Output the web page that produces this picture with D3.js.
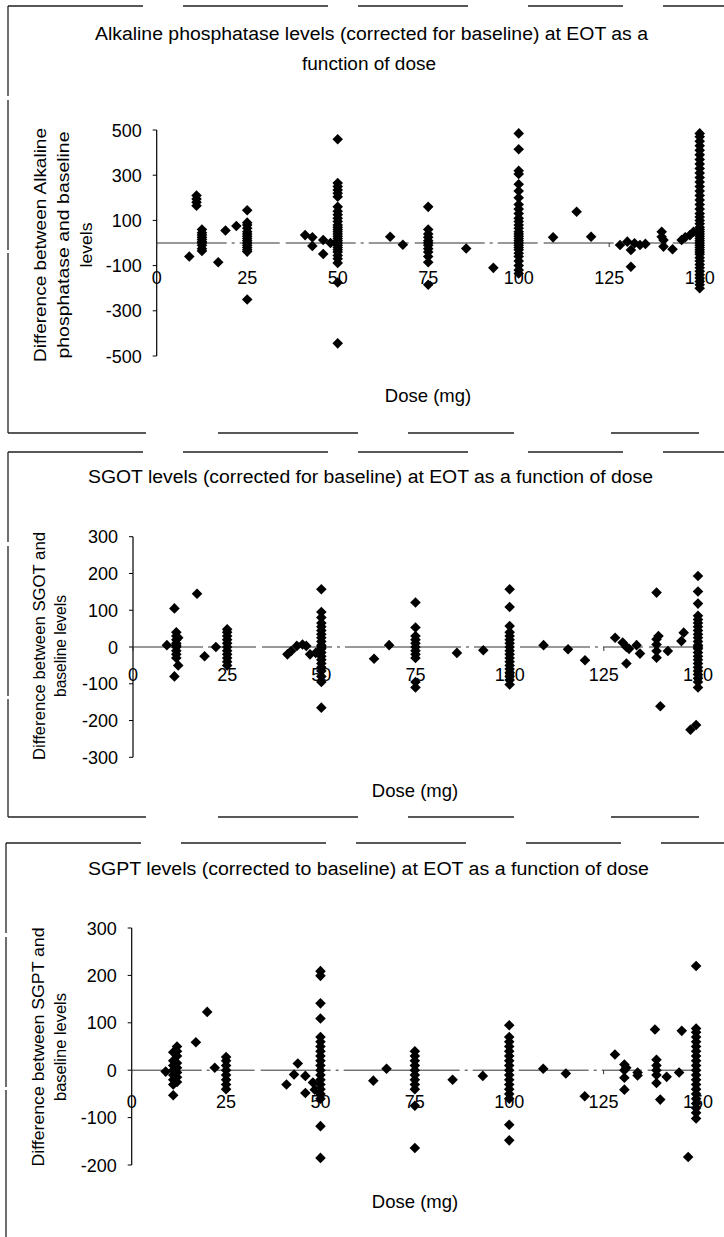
<!DOCTYPE html>
<html>
<head>
<meta charset="utf-8">
<script src="https://cdn.jsdelivr.net/npm/d3@7"></script>
<style>
body{margin:0;background:#fff;}
svg{display:block;}
text{font-family:"Liberation Sans",Arial,sans-serif;fill:#000;}
</style>
</head>
<body>
<svg id="chart" width="724" height="1237"></svg>
<script>
// dose ticks shared by the three panels
const doseTicks = [0, 25, 50, 75, 100, 125, 150];

// Alkaline phosphatase : [dose, [differences]]
const alpTicks = [-500, -300, -100, 100, 300, 500];
const alpGroups = [
    [9, [-60]],
    [11, [210, 195, 180, 165]],
    [12.5, [60, 45, 35, 25, 15, 5, 0, -10, -25, -35]],
    [17, [-85]],
    [19, [55]],
    [22, [75]],
    [25, [145, 90, 80, 65, 50, 40, 30, 20, 10, 0, -10, -20, -30, -38, -250]],
    [41, [35]],
    [43, [-13, 25]],
    [46, [13, -49]],
    [48, [0]],
    [50, [459, 265, 250, 235, 220, 205, 160, 140, 125, 110, 95, 80, 70, 60, 50, 40, 30, 20, 10, 0,
          -10, -20, -30, -40, -55, -70, -88, -175, -444]],
    [64.5, [28]],
    [68, [-8]],
    [75, [160, 60, 40, 25, 10, 0, -10, -25, -40, -60, -85, -185]],
    [85.5, [-24]],
    [93, [-110]],
    [100, [485, 415, 320, 305, 260, 230, 200, 170, 150, 130, 110, 95, 80, 65, 50, 40, 30, 20, 10, 0,
           -10, -20, -30, -45, -60, -80, -100, -120, -135]],
    [109.5, [25]],
    [116, [138]],
    [120, [28]],
    [128, [-9]],
    [130, [6]],
    [131, [-31, -105]],
    [132, [-1]],
    [133.5, [-9]],
    [135, [-4]],
    [139.5, [50, 28]],
    [140, [13, -16]],
    [142.5, [-28]],
    [145, [13]],
    [146, [25]],
    [147.3, [35]],
    [148.3, [50]],
    [150, [485, 470, 450, 430, 410, 390, 370, 350, 330, 310, 290, 270, 250, 230, 210, 190, 170, 150,
           130, 115, 100, 85, 70, 60, 50, 40, 30, 20, 10, 0, -10, -20, -30, -40, -50, -65, -80, -95,
           -110, -125, -140, -155, -170, -185, -200]]
];

// SGOT
const sgotTicks = [-300, -200, -100, 0, 100, 200, 300];
const sgotGroups = [
    [9, [5]],
    [11, [105, -80]],
    [11.5, [40, 30, 20, 10, 5, 0, -10, -20, -30]],
    [12, [25, -50]],
    [17, [145]],
    [19, [-25]],
    [22, [0]],
    [25, [48, 40, 30, 20, 10, 0, -10, -20, -30, -40, -50]],
    [41, [-20]], [42, [-11]], [43.5, [3]], [45, [7]], [46, [3]], [47, [-20]], [48.5, [-16]],
    [50, [157, 95, 80, 65, 55, 45, 35, 25, 15, 5, 0, -5, -15, -25, -35, -45, -55, -65, -80, -95, -165]],
    [64, [-32]],
    [68, [5]],
    [75, [121, 53, 30, 20, 10, 0, -10, -20, -30, -95, -110]],
    [86, [-16]],
    [93, [-9]],
    [100, [157, 109, 57, 40, 30, 20, 10, 0, -10, -20, -30, -40, -50, -60, -70, -80, -90, -102]],
    [109, [5]],
    [115.5, [-6]],
    [120, [-36]],
    [128, [25]],
    [130, [12]], [131, [0, -45]], [131.7, [-5]],
    [133.7, [5]], [134.6, [-18]],
    [139, [148, 21, 7, -11, -29]],
    [139.5, [30]],
    [140, [-161]],
    [142, [-11]],
    [145.6, [16]], [146.2, [39]],
    [148, [-225]], [149.5, [-212]],
    [150, [193, 151, 118, 85, 75, 65, 55, 45, 35, 25, 15, 5, 0, -5, -15, -25, -35, -45, -55, -65,
           -75, -85, -95, -110]]
];

// SGPT
const sgptTicks = [-200, -100, 0, 100, 200, 300];
const sgptGroups = [
    [9, [-3]],
    [11, [38, 20, 10, 0, -10, -20, -30, -53]],
    [12, [50, 40, 30, 15, 5, -5, -15, -25]],
    [17, [59]],
    [20, [123]],
    [22, [5]],
    [25, [28, 20, 10, 0, -10, -20, -30, -40]],
    [41, [-30]], [43, [-9]], [44, [14]], [46, [-12, -48]], [48, [-26]], [48.5, [-41]],
    [50, [209, 199, 141, 109, 70, 60, 50, 40, 30, 20, 10, 0, -10, -20, -30, -40, -50, -60, -118, -185]],
    [64, [-22]],
    [67.5, [3]],
    [75, [40, 30, 20, 10, 0, -10, -20, -30, -40, -75, -164]],
    [85, [-20]],
    [93, [-12]],
    [100, [95, 70, 60, 50, 40, 30, 20, 10, 0, -10, -20, -30, -40, -50, -60, -115, -148]],
    [109, [3]],
    [115, [-7]],
    [120, [-55]],
    [128, [33]],
    [130.5, [12, 0, -16, -41]],
    [131, [5]],
    [134, [-5, -11]],
    [138.6, [86]],
    [139, [22, 10, 0, -10, -27]],
    [140, [-62]],
    [141.7, [-14]],
    [145, [-5]],
    [145.7, [83]],
    [147.4, [-183]],
    [149.5, [220, 88, 80, 70, 60, 50, 40, 30, 20, 10, 0, -10, -20, -30, -40, -50, -60, -70, -80, -90, -102]]
];

const svg = d3.select("#chart");
svg.append("rect").attr("width", 724).attr("height", 1237).attr("fill", "#fff");

const panels = [
    {
        groups: alpGroups, ticks: alpTicks, yDomain: [-500, 500],
        xRange: [156.7, 699.7], yRange: [356, 130],
        frame: {top: 6, bottom: 433, left: 8},
        titles: [
            {text: "Alkaline phosphatase levels (corrected for baseline) at EOT as a", x: 371.5, y: 39.5, len: 553},
            {text: "function of dose", x: 369, y: 69.5, len: 134}
        ],
        ylab: [
            {text: "Difference between Alkaline", x: 46, len: 234},
            {text: "phosphatase  and baseline", x: 69, len: 227},
            {text: "levels", x: 92, len: 45}
        ],
        ylabY: 245, tickLabY: 284, doseX: 428, doseY: 402
    },
    {
        groups: sgotGroups, ticks: sgotTicks, yDomain: [-300, 300],
        xRange: [133, 698], yRange: [757.3, 536.7],
        frame: {top: 452, bottom: 817, left: 8},
        titles: [
            {text: "SGOT levels (corrected for baseline) at EOT as a function of dose", x: 370.5, y: 483, len: 565}
        ],
        ylab: [
            {text: "Difference between SGOT and", x: 45, len: 228},
            {text: "baseline levels", x: 66, len: 102}
        ],
        ylabY: 646, tickLabY: 681, doseX: 415, doseY: 797
    },
    {
        groups: sgptGroups, ticks: sgptTicks, yDomain: [-200, 300],
        xRange: [131.7, 698], yRange: [1165, 928],
        frame: {top: 843, bottom: 1250, left: 6},
        titles: [
            {text: "SGPT levels (corrected to baseline) at EOT as a function of dose", x: 368.5, y: 875, len: 561}
        ],
        ylab: [
            {text: "Difference between SGPT and", x: 44, len: 239},
            {text: "baseline levels", x: 66, len: 108}
        ],
        ylabY: 1047, tickLabY: 1108, doseX: 415, doseY: 1208
    }
];

let _drawPanel = function(p) {
    let g = svg.append("g");
    let x = d3.scaleLinear().domain([0, 150]).range(p.xRange);
    let y = d3.scaleLinear().domain(p.yDomain).range(p.yRange);

    // scanned frame, broken lines
    g.append("line").attr("x1", p.frame.left).attr("x2", 724)
        .attr("y1", p.frame.top).attr("y2", p.frame.top)
        .attr("stroke", "#222").attr("stroke-width", 1.3)
        .attr("stroke-dasharray", "135,40,145,30,110,60,95,40,70,30");
    g.append("line").attr("x1", p.frame.left).attr("x2", 724)
        .attr("y1", p.frame.bottom).attr("y2", p.frame.bottom)
        .attr("stroke", "#222").attr("stroke-width", 1.3)
        .attr("stroke-dasharray", "138,72,140,50,106,97,88,30");
    g.append("line").attr("x1", p.frame.left).attr("x2", p.frame.left)
        .attr("y1", p.frame.top).attr("y2", p.frame.bottom)
        .attr("stroke", "#222").attr("stroke-width", 1.3)
        .attr("stroke-dasharray", "90,4,150,3,200");

    // titles
    p.titles.forEach(function(t) {
        g.append("text").attr("x", t.x).attr("y", t.y)
            .attr("text-anchor", "middle").style("font-size", "18px")
            .attr("textLength", t.len).attr("lengthAdjust", "spacingAndGlyphs")
            .text(t.text);
    });

    // y axis title, rotated
    p.ylab.forEach(function(l) {
        g.append("text")
            .attr("transform", "translate(" + l.x + "," + p.ylabY + ") rotate(-90)")
            .attr("text-anchor", "middle").style("font-size", "16px")
            .attr("textLength", l.len).attr("lengthAdjust", "spacingAndGlyphs")
            .text(l.text);
    });

    // y axis
    let x0 = x(0);
    g.append("line").attr("x1", x0).attr("x2", x0)
        .attr("y1", y(p.yDomain[1])).attr("y2", y(p.yDomain[0]))
        .attr("stroke", "#000").attr("stroke-width", 1.2);
    p.ticks.forEach(function(v) {
        g.append("line").attr("x1", x0 - 4).attr("x2", x0)
            .attr("y1", y(v)).attr("y2", y(v)).attr("stroke", "#000");
        g.append("text").attr("x", x0 - 15).attr("y", y(v) + 6.5)
            .attr("text-anchor", "end").style("font-size", "18px")
            .text(v);
    });

    // x axis on the zero line
    g.append("line").attr("x1", x0).attr("x2", x(150))
        .attr("y1", y(0)).attr("y2", y(0))
        .attr("stroke", "#333").attr("stroke-width", 1)
        .attr("stroke-dasharray", "70,5,3,5,40,6");
    doseTicks.forEach(function(v) {
        g.append("line").attr("x1", x(v)).attr("x2", x(v))
            .attr("y1", y(0)).attr("y2", y(0) + 4).attr("stroke", "#333");
        g.append("text").attr("x", x(v)).attr("y", p.tickLabY)
            .attr("text-anchor", "middle").style("font-size", "18px")
            .text(v);
    });

    g.append("text").attr("x", p.doseX).attr("y", p.doseY)
        .attr("text-anchor", "middle").style("font-size", "18.5px")
        .text("Dose (mg)");

    // points
    let pts = [];
    p.groups.forEach(function(gr) {
        gr[1].forEach(function(v) { pts.push([gr[0], v]); });
    });
    let sym = d3.symbol().type(d3.symbolSquare).size(56);
    g.append("g").selectAll("path").data(pts).join("path")
        .attr("d", sym)
        .attr("transform", function(d) {
            return "translate(" + x(d[0]) + "," + y(d[1]) + ") rotate(45)";
        })
        .attr("fill", "#000");
};

panels.forEach(_drawPanel);
</script>
</body>
</html>
